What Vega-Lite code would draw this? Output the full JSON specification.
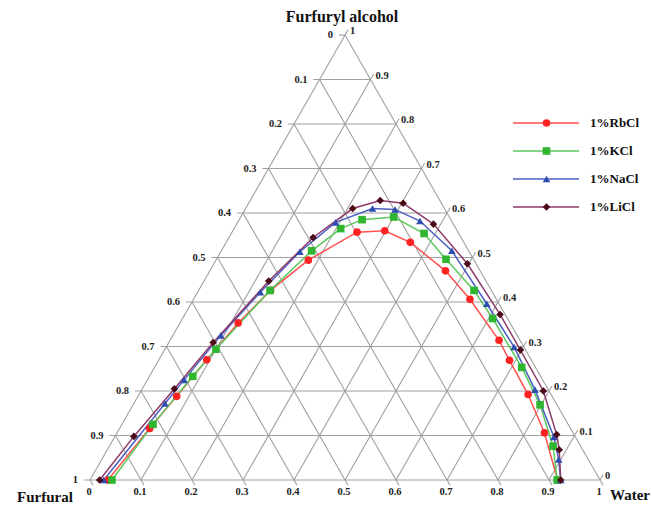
{
  "$schema": "https://vega.github.io/schema/vega-lite/v6.json",
  "width": 510,
  "height": 445,
  "autosize": "none",
  "padding": {"left": 90, "top": 35, "right": 52, "bottom": 25},
  "background": "white",
  "config": {"view": {"stroke": null}, "font": "Liberation Serif"},
  "datasets": {
    "grid": [
      {"w1": -0.012, "a1": 0, "w2": 1, "a2": 0},
      {"w1": -0.012, "a1": 0.1, "w2": 0.9, "a2": 0.1},
      {"w1": -0.012, "a1": 0.2, "w2": 0.8, "a2": 0.2},
      {"w1": -0.012, "a1": 0.3, "w2": 0.7, "a2": 0.3},
      {"w1": -0.012, "a1": 0.4, "w2": 0.6, "a2": 0.4},
      {"w1": -0.012, "a1": 0.5, "w2": 0.5, "a2": 0.5},
      {"w1": -0.012, "a1": 0.6, "w2": 0.4, "a2": 0.6},
      {"w1": -0.012, "a1": 0.7, "w2": 0.3, "a2": 0.7},
      {"w1": -0.012, "a1": 0.8, "w2": 0.2, "a2": 0.8},
      {"w1": -0.012, "a1": 0.9, "w2": 0.1, "a2": 0.9},
      {"w1": -0.012, "a1": 1, "w2": 0, "a2": 1},
      {"w1": 0, "a1": 0, "w2": 0, "a2": 1.012},
      {"w1": 0.1, "a1": 0, "w2": 0.1, "a2": 0.912},
      {"w1": 0.2, "a1": 0, "w2": 0.2, "a2": 0.812},
      {"w1": 0.3, "a1": 0, "w2": 0.3, "a2": 0.712},
      {"w1": 0.4, "a1": 0, "w2": 0.4, "a2": 0.612},
      {"w1": 0.5, "a1": 0, "w2": 0.5, "a2": 0.512},
      {"w1": 0.6, "a1": 0, "w2": 0.6, "a2": 0.412},
      {"w1": 0.7, "a1": 0, "w2": 0.7, "a2": 0.312},
      {"w1": 0.8, "a1": 0, "w2": 0.8, "a2": 0.212},
      {"w1": 0.9, "a1": 0, "w2": 0.9, "a2": 0.112},
      {"w1": 1, "a1": 0, "w2": 1, "a2": 0.012},
      {"w1": 0.012, "a1": -0.012, "w2": 0, "a2": 0},
      {"w1": 0.112, "a1": -0.012, "w2": 0, "a2": 0.1},
      {"w1": 0.212, "a1": -0.012, "w2": 0, "a2": 0.2},
      {"w1": 0.312, "a1": -0.012, "w2": 0, "a2": 0.3},
      {"w1": 0.412, "a1": -0.012, "w2": 0, "a2": 0.4},
      {"w1": 0.512, "a1": -0.012, "w2": 0, "a2": 0.5},
      {"w1": 0.612, "a1": -0.012, "w2": 0, "a2": 0.6},
      {"w1": 0.712, "a1": -0.012, "w2": 0, "a2": 0.7},
      {"w1": 0.812, "a1": -0.012, "w2": 0, "a2": 0.8},
      {"w1": 0.912, "a1": -0.012, "w2": 0, "a2": 0.9},
      {"w1": 1.012, "a1": -0.012, "w2": 0, "a2": 1}
    ],
    "curves": [
      {"salt": "1%RbCl", "w": 0.035, "a": 0},
      {"salt": "1%RbCl", "w": 0.059, "a": 0.116},
      {"salt": "1%RbCl", "w": 0.076, "a": 0.188},
      {"salt": "1%RbCl", "w": 0.094, "a": 0.270},
      {"salt": "1%RbCl", "w": 0.114, "a": 0.353},
      {"salt": "1%RbCl", "w": 0.141, "a": 0.426},
      {"salt": "1%RbCl", "w": 0.181, "a": 0.494},
      {"salt": "1%RbCl", "w": 0.245, "a": 0.557},
      {"salt": "1%RbCl", "w": 0.298, "a": 0.560},
      {"salt": "1%RbCl", "w": 0.361, "a": 0.534},
      {"salt": "1%RbCl", "w": 0.462, "a": 0.470},
      {"salt": "1%RbCl", "w": 0.542, "a": 0.406},
      {"salt": "1%RbCl", "w": 0.645, "a": 0.314},
      {"salt": "1%RbCl", "w": 0.688, "a": 0.269},
      {"salt": "1%RbCl", "w": 0.763, "a": 0.192},
      {"salt": "1%RbCl", "w": 0.838, "a": 0.106},
      {"salt": "1%RbCl", "w": 0.917, "a": 0},
      {"salt": "1%KCl", "w": 0.043, "a": 0},
      {"salt": "1%KCl", "w": 0.061, "a": 0.125},
      {"salt": "1%KCl", "w": 0.085, "a": 0.233},
      {"salt": "1%KCl", "w": 0.100, "a": 0.294},
      {"salt": "1%KCl", "w": 0.140, "a": 0.426},
      {"salt": "1%KCl", "w": 0.177, "a": 0.515},
      {"salt": "1%KCl", "w": 0.209, "a": 0.565},
      {"salt": "1%KCl", "w": 0.241, "a": 0.585},
      {"salt": "1%KCl", "w": 0.300, "a": 0.591},
      {"salt": "1%KCl", "w": 0.378, "a": 0.554},
      {"salt": "1%KCl", "w": 0.450, "a": 0.496},
      {"salt": "1%KCl", "w": 0.540, "a": 0.426},
      {"salt": "1%KCl", "w": 0.608, "a": 0.363},
      {"salt": "1%KCl", "w": 0.720, "a": 0.253},
      {"salt": "1%KCl", "w": 0.798, "a": 0.169},
      {"salt": "1%KCl", "w": 0.870, "a": 0.076},
      {"salt": "1%KCl", "w": 0.916, "a": 0},
      {"salt": "1%NaCl", "w": 0.027, "a": 0},
      {"salt": "1%NaCl", "w": 0.061, "a": 0.172},
      {"salt": "1%NaCl", "w": 0.072, "a": 0.225},
      {"salt": "1%NaCl", "w": 0.094, "a": 0.325},
      {"salt": "1%NaCl", "w": 0.123, "a": 0.422},
      {"salt": "1%NaCl", "w": 0.155, "a": 0.513},
      {"salt": "1%NaCl", "w": 0.192, "a": 0.579},
      {"salt": "1%NaCl", "w": 0.249, "a": 0.610},
      {"salt": "1%NaCl", "w": 0.294, "a": 0.608},
      {"salt": "1%NaCl", "w": 0.356, "a": 0.582},
      {"salt": "1%NaCl", "w": 0.452, "a": 0.515},
      {"salt": "1%NaCl", "w": 0.580, "a": 0.396},
      {"salt": "1%NaCl", "w": 0.682, "a": 0.299},
      {"salt": "1%NaCl", "w": 0.771, "a": 0.203},
      {"salt": "1%NaCl", "w": 0.861, "a": 0.097},
      {"salt": "1%NaCl", "w": 0.896, "a": 0.046},
      {"salt": "1%NaCl", "w": 0.923, "a": 0},
      {"salt": "1%LiCl", "w": 0.019, "a": 0},
      {"salt": "1%LiCl", "w": 0.037, "a": 0.098},
      {"salt": "1%LiCl", "w": 0.063, "a": 0.205},
      {"salt": "1%LiCl", "w": 0.087, "a": 0.309},
      {"salt": "1%LiCl", "w": 0.127, "a": 0.447},
      {"salt": "1%LiCl", "w": 0.165, "a": 0.545},
      {"salt": "1%LiCl", "w": 0.210, "a": 0.610},
      {"salt": "1%LiCl", "w": 0.255, "a": 0.628},
      {"salt": "1%LiCl", "w": 0.303, "a": 0.622},
      {"salt": "1%LiCl", "w": 0.386, "a": 0.575},
      {"salt": "1%LiCl", "w": 0.497, "a": 0.486},
      {"salt": "1%LiCl", "w": 0.618, "a": 0.372},
      {"salt": "1%LiCl", "w": 0.698, "a": 0.292},
      {"salt": "1%LiCl", "w": 0.789, "a": 0.200},
      {"salt": "1%LiCl", "w": 0.864, "a": 0.102},
      {"salt": "1%LiCl", "w": 0.886, "a": 0.068},
      {"salt": "1%LiCl", "w": 0.923, "a": 0}
    ],
    "leftLabels": [
      {"t": "0", "w": 0, "a": 1}, {"t": "0.1", "w": 0, "a": 0.9}, {"t": "0.2", "w": 0, "a": 0.8},
      {"t": "0.3", "w": 0, "a": 0.7}, {"t": "0.4", "w": 0, "a": 0.6}, {"t": "0.5", "w": 0, "a": 0.5},
      {"t": "0.6", "w": 0, "a": 0.4}, {"t": "0.7", "w": 0, "a": 0.3}, {"t": "0.8", "w": 0, "a": 0.2},
      {"t": "0.9", "w": 0, "a": 0.1}, {"t": "1", "w": 0, "a": 0}
    ],
    "rightLabels": [
      {"t": "1", "w": 0, "a": 1}, {"t": "0.9", "w": 0.1, "a": 0.9}, {"t": "0.8", "w": 0.2, "a": 0.8},
      {"t": "0.7", "w": 0.3, "a": 0.7}, {"t": "0.6", "w": 0.4, "a": 0.6}, {"t": "0.5", "w": 0.5, "a": 0.5},
      {"t": "0.4", "w": 0.6, "a": 0.4}, {"t": "0.3", "w": 0.7, "a": 0.3}, {"t": "0.2", "w": 0.8, "a": 0.2},
      {"t": "0.1", "w": 0.9, "a": 0.1}, {"t": "0", "w": 1, "a": 0}
    ],
    "bottomLabels": [
      {"t": "0", "w": 0, "a": 0}, {"t": "0.1", "w": 0.1, "a": 0}, {"t": "0.2", "w": 0.2, "a": 0},
      {"t": "0.3", "w": 0.3, "a": 0}, {"t": "0.4", "w": 0.4, "a": 0}, {"t": "0.5", "w": 0.5, "a": 0},
      {"t": "0.6", "w": 0.6, "a": 0}, {"t": "0.7", "w": 0.7, "a": 0}, {"t": "0.8", "w": 0.8, "a": 0},
      {"t": "0.9", "w": 0.9, "a": 0}, {"t": "1", "w": 1, "a": 0}
    ]
  },
  "layer": [
    {
      "data": {"name": "grid"},
      "transform": [
        {"calculate": "datum.w1 + datum.a1 / 2", "as": "x"},
        {"calculate": "datum.a1", "as": "y"},
        {"calculate": "datum.w2 + datum.a2 / 2", "as": "x2"},
        {"calculate": "datum.a2", "as": "y2"}
      ],
      "mark": {"type": "rule", "color": "#a0a0a0", "strokeWidth": 1.1},
      "encoding": {
        "x": {"field": "x", "type": "quantitative", "scale": {"domain": [0, 1], "nice": false, "zero": false}, "axis": null},
        "y": {"field": "y", "type": "quantitative", "scale": {"domain": [0, 1], "nice": false, "zero": false}, "axis": null},
        "x2": {"field": "x2"},
        "y2": {"field": "y2"}
      }
    },
    {
      "data": {"name": "curves"},
      "transform": [
        {"calculate": "datum.w + datum.a / 2", "as": "x"},
        {"calculate": "datum.a", "as": "y"}
      ],
      "mark": {"type": "line", "strokeWidth": 1.5},
      "encoding": {
        "x": {"field": "x", "type": "quantitative"},
        "y": {"field": "y", "type": "quantitative"},
        "stroke": {
          "field": "salt", "type": "nominal",
          "scale": {"domain": ["1%RbCl", "1%KCl", "1%NaCl", "1%LiCl"], "range": ["#ff4f4f", "#5cc95c", "#4d5fc4", "#8e3a6a"]},
          "legend": {
            "orient": "none", "legendX": 422, "legendY": 78, "title": null,
            "symbolType": "stroke", "symbolSize": 4356, "symbolStrokeWidth": 1.6,
            "clipHeight": 20, "rowPadding": 8, "padding": 0, "offset": 0,
            "labelFont": "Liberation Serif", "labelFontWeight": "bold", "labelFontSize": 13,
            "labelColor": "#111111", "labelOffset": 10
          }
        }
      }
    },
    {
      "data": {"name": "curves"},
      "transform": [
        {"calculate": "datum.w + datum.a / 2", "as": "x"},
        {"calculate": "datum.a", "as": "y"}
      ],
      "mark": {"type": "point", "filled": true, "size": 58, "opacity": 1},
      "encoding": {
        "x": {"field": "x", "type": "quantitative"},
        "y": {"field": "y", "type": "quantitative"},
        "fill": {
          "field": "salt", "type": "nominal", "sort": null,
          "scale": {"range": ["#ff2222", "#2fb52f", "#2e4db0", "#4a0a16"]},
          "legend": {
            "orient": "none", "legendX": 450, "legendY": 78, "title": null,
            "symbolSize": 58, "symbolStrokeWidth": 0,
            "clipHeight": 20, "rowPadding": 8, "padding": 0, "offset": 0,
            "labelFontSize": 13, "labelExpr": "''"
          }
        },
        "shape": {
          "field": "salt", "type": "nominal", "sort": null,
          "scale": {"range": ["circle", "square", "triangle-up", "diamond"]},
          "legend": {
            "orient": "none", "legendX": 450, "legendY": 78, "title": null,
            "symbolSize": 58, "symbolStrokeWidth": 0,
            "clipHeight": 20, "rowPadding": 8, "padding": 0, "offset": 0,
            "labelFontSize": 13, "labelExpr": "''"
          }
        }
      }
    },
    {
      "data": {"name": "leftLabels"},
      "transform": [
        {"calculate": "datum.w + datum.a / 2", "as": "x"},
        {"calculate": "datum.a", "as": "y"}
      ],
      "mark": {"type": "text", "align": "right", "baseline": "middle", "dx": -12, "dy": 0, "font": "Liberation Serif", "fontWeight": "bold", "fontSize": 10.5, "color": "#222222"},
      "encoding": {
        "x": {"field": "x", "type": "quantitative"},
        "y": {"field": "y", "type": "quantitative"},
        "text": {"field": "t"}
      }
    },
    {
      "data": {"name": "rightLabels"},
      "transform": [
        {"calculate": "datum.w + datum.a / 2", "as": "x"},
        {"calculate": "datum.a", "as": "y"}
      ],
      "mark": {"type": "text", "align": "left", "baseline": "middle", "dx": 5, "dy": -4, "font": "Liberation Serif", "fontWeight": "bold", "fontSize": 10.5, "color": "#222222"},
      "encoding": {
        "x": {"field": "x", "type": "quantitative"},
        "y": {"field": "y", "type": "quantitative"},
        "text": {"field": "t"}
      }
    },
    {
      "data": {"name": "bottomLabels"},
      "transform": [
        {"calculate": "datum.w + datum.a / 2", "as": "x"},
        {"calculate": "datum.a", "as": "y"}
      ],
      "mark": {"type": "text", "align": "center", "baseline": "middle", "dx": -1, "dy": 12, "font": "Liberation Serif", "fontWeight": "bold", "fontSize": 10.5, "color": "#222222"},
      "encoding": {
        "x": {"field": "x", "type": "quantitative"},
        "y": {"field": "y", "type": "quantitative"},
        "text": {"field": "t"}
      }
    },
    {
      "data": {"values": [{"t": "Furfuryl alcohol", "x": 0.5, "y": 1}]},
      "mark": {"type": "text", "align": "center", "baseline": "middle", "dx": -3, "dy": -18, "font": "Liberation Serif", "fontWeight": "bold", "fontSize": 16, "color": "#111111"},
      "encoding": {
        "x": {"field": "x", "type": "quantitative"},
        "y": {"field": "y", "type": "quantitative"},
        "text": {"field": "t"}
      }
    },
    {
      "data": {"values": [{"t": "Furfural", "x": 0, "y": 0}]},
      "mark": {"type": "text", "align": "center", "baseline": "middle", "dx": -45, "dy": 17, "font": "Liberation Serif", "fontWeight": "bold", "fontSize": 15, "color": "#111111"},
      "encoding": {
        "x": {"field": "x", "type": "quantitative"},
        "y": {"field": "y", "type": "quantitative"},
        "text": {"field": "t"}
      }
    },
    {
      "data": {"values": [{"t": "Water", "x": 1, "y": 0}]},
      "mark": {"type": "text", "align": "center", "baseline": "middle", "dx": 30, "dy": 15, "font": "Liberation Serif", "fontWeight": "bold", "fontSize": 15, "color": "#111111"},
      "encoding": {
        "x": {"field": "x", "type": "quantitative"},
        "y": {"field": "y", "type": "quantitative"},
        "text": {"field": "t"}
      }
    }
  ]
}
